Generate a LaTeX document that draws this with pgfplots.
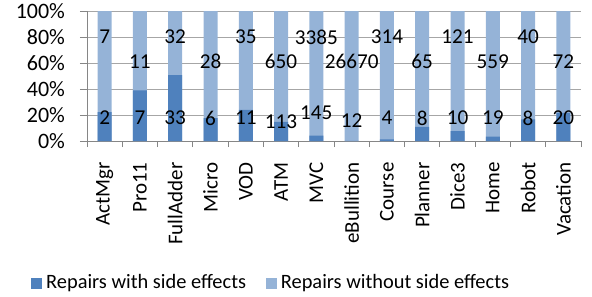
\documentclass[border=0pt]{standalone}
\usepackage{pgfplots}
\usepackage{pgfplotstable}
\pgfplotsset{compat=1.18}
\usepackage{fontspec}
\setmainfont{Carlito}
\definecolor{darkb}{HTML}{4F81BD}
\definecolor{lightb}{HTML}{95B3D7}
\definecolor{gridc}{HTML}{A6A6A6}
\definecolor{axisc}{HTML}{868686}

\pgfplotstableread{
x with without
0 2 7
1 7 11
2 33 32
3 6 28
4 11 35
5 113 650
6 145 3385
7 12 26670
8 4 314
9 8 65
10 10 121
11 19 559
12 8 40
13 20 72
}\datatable

\pgfplotstableread{
x y label
0 17.7 2
1 17.7 7
2 17.7 33
3 17.7 6
4 17.7 11
5 14.6 113
6 22.0 145
7 16.0 12
8 17.7 4
9 17.7 8
10 18.3 10
11 17.7 19
12 17.7 8
13 17.7 20
0 80.0 7
1 61.0 11
2 80.0 32
3 61.0 28
4 80.0 35
5 61.0 650
6 80.0 3385
7 61.0 26670
8 80.0 314
9 61.0 65
10 80.0 121
11 61.0 559
12 80.0 40
13 61.0 72
}\labeltable

\begin{document}
\begin{tikzpicture}
\useasboundingbox (-43.5pt,-77.5pt) rectangle (252.5pt,70.5pt);
\begin{axis}[
  at={(0,0)}, anchor=south west,
  scale only axis, width=247pt, height=65pt,
  xmin=-0.5, xmax=13.5, ymin=0, ymax=100,
  axis x line*=bottom, axis y line*=left,
  axis line style={draw=axisc, line width=0.5pt},
  xtick={0,...,13},
  xticklabels={ActMgr,Pro11,FullAdder,Micro,VOD,ATM,MVC,eBullition,Course,Planner,Dice3,Home,Robot,Vacation},
  x tick label style={rotate=90, anchor=east, font=\fontsize{10.5}{12}\selectfont, inner sep=1pt, xshift=-6pt},
  xtick style={draw=none},
  extra x ticks={-0.5,0.5,...,13.5},
  extra x tick labels={},
  extra x tick style={grid=none, major tick length=3pt, tick align=outside, xtick style={draw=axisc, line width=0.5pt}},
  ytick={0,20,...,100},
  yticklabel={\pgfmathprintnumber{\tick}\%},
  y tick label style={font=\fontsize{11}{12}\selectfont, xshift=-4pt},
  ytick style={draw=axisc, line width=0.5pt},
  tick align=outside, major tick length=3.5pt,
  ymajorgrids, grid style={draw=gridc, line width=0.5pt},
  /pgf/number format/assume math mode=true,
  legend style={at={(0.375,-1.095)}, anchor=center, draw=none, fill=none,
    legend columns=2, font=\fontsize{10.2}{12}\selectfont,
    /tikz/every even column/.append style={column sep=8pt},
    legend cell align=left, inner sep=0pt},
  legend image code/.code={\fill[#1] (0pt,-2.7pt) rectangle (5.4pt,2.7pt);},
]
\addplot[ybar, bar width=7pt, bar shift=0pt, fill=lightb, draw=none, forget plot]
  table[x=x, y expr={100*(\thisrow{with}+\thisrow{without})/(\thisrow{with}+\thisrow{without})}] {\datatable};
\addplot[ybar, bar width=7pt, bar shift=0pt, fill=darkb, draw=none]
  table[x=x, y expr={100*\thisrow{with}/(\thisrow{with}+\thisrow{without})}] {\datatable};
\addlegendentry{Repairs with side effects}
\addlegendimage{fill=lightb, draw=none}
\addlegendentry{Repairs without side effects}
\addplot[draw=none, mark=none, forget plot, nodes near coords, point meta=explicit symbolic,
  nodes near coords style={anchor=center, font=\fontsize{10.6}{12}\selectfont, inner sep=0pt}]
  table[x=x, y=y, meta=label] {\labeltable};
\end{axis}
\end{tikzpicture}
\end{document}
